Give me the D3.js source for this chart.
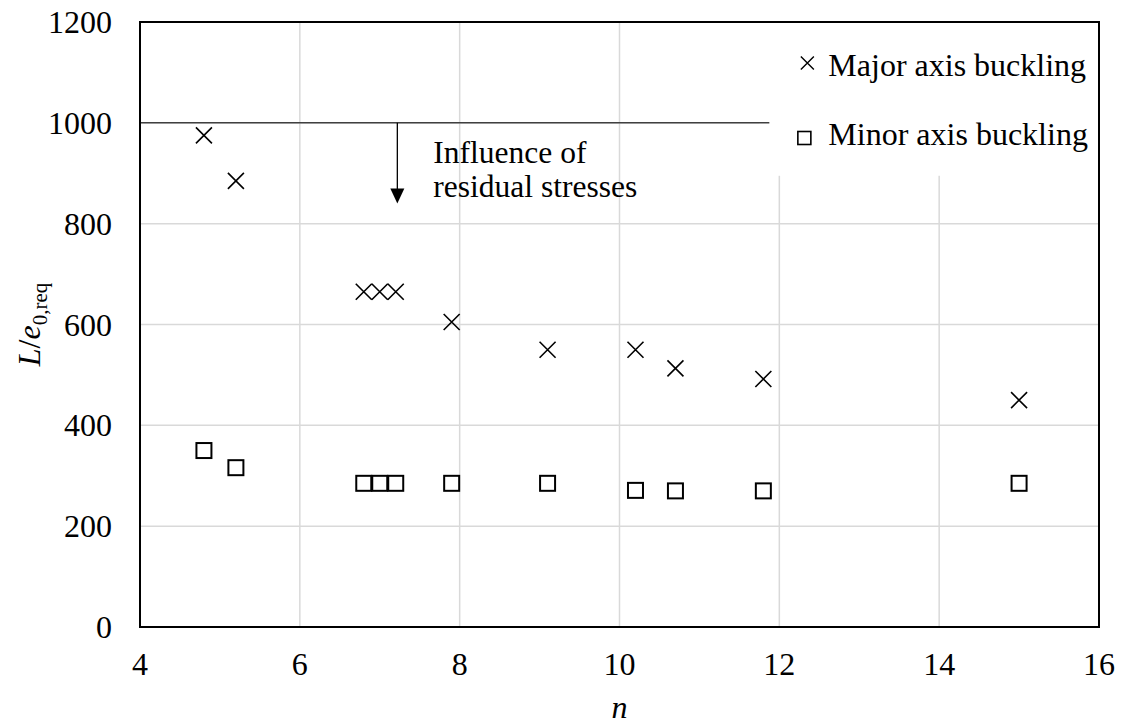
<!DOCTYPE html>
<html>
<head>
<meta charset="utf-8">
<script src="https://cdn.jsdelivr.net/npm/d3@7"></script>
<style>
  html, body { margin: 0; padding: 0; background: #fff; }
  svg { display: block; font-family: "Liberation Serif", "Times New Roman", serif; }
</style>
</head>
<body>
<svg id="chart" width="1125" height="724"></svg>
<script>
  // n values shared by both series
  var nValues = [4.8, 5.2, 6.8, 7.0, 7.2, 7.9, 9.1, 10.2, 10.7, 11.8, 15.0];
  var majorValues = [975, 885, 665, 665, 665, 605, 550, 550, 513, 492, 450];
  var minorValues = [350, 316, 285, 285, 285, 285, 285, 271, 270, 270, 285];
  var xTicks = [4, 6, 8, 10, 12, 14, 16];
  var yTicks = [0, 200, 400, 600, 800, 1000, 1200];
  var refLevel = 1000, refEnd = 11.875, arrowAt = 7.22, arrowTo = 840;
  var noteLines = ['Influence of', 'residual stresses'];
  var legendLabels = ['Major axis buckling', 'Minor axis buckling'];

  var margin = { left: 140, right: 26, top: 22, bottom: 97 },
      width = 1125 - margin.left - margin.right,
      height = 724 - margin.top - margin.bottom;

  var svg = d3.select('#chart'),
      g = svg.append('g').attr('transform', 'translate(' + margin.left + ',' + margin.top + ')');

  var x = d3.scaleLinear().domain([4, 16]).range([0, width]),
      y = d3.scaleLinear().domain([0, 1200]).range([height, 0]);

  // grid
  g.append('g').selectAll('line.vx')
    .data(xTicks.slice(1, -1))
    .enter().append('line')
      .attr('x1', function(d) { return x(d); })
      .attr('x2', function(d) { return x(d); })
      .attr('y1', 0).attr('y2', height)
      .attr('stroke', '#d9d9d9').attr('stroke-width', 1.5);

  g.append('g').selectAll('line.hy')
    .data(yTicks.slice(1, -1))
    .enter().append('line')
      .attr('x1', 0).attr('x2', width)
      .attr('y1', function(d) { return y(d); })
      .attr('y2', function(d) { return y(d); })
      .attr('stroke', '#d9d9d9').attr('stroke-width', 1.5);

  // legend background hides the grid in the top right corner
  var legendX = x(11.75), legendY = y(1200), legendBottom = y(895);
  g.append('rect')
    .attr('x', legendX).attr('y', legendY)
    .attr('width', width - legendX).attr('height', legendBottom - legendY)
    .attr('fill', '#fff');

  // reference line at 1000 and the arrow
  g.append('line')
    .attr('x1', x(4)).attr('x2', x(refEnd))
    .attr('y1', y(refLevel)).attr('y2', y(refLevel))
    .attr('stroke', '#404040').attr('stroke-width', 1.5);

  g.append('line')
    .attr('x1', x(arrowAt)).attr('x2', x(arrowAt))
    .attr('y1', y(refLevel)).attr('y2', y(arrowTo) - 14)
    .attr('stroke', '#000').attr('stroke-width', 1.3);

  g.append('path')
    .attr('d', 'M' + (x(arrowAt) - 7) + ',' + (y(arrowTo) - 15) +
               'L' + (x(arrowAt) + 7) + ',' + (y(arrowTo) - 15) +
               'L' + x(arrowAt) + ',' + y(arrowTo) + 'Z')
    .attr('fill', '#000');

  g.append('text')
    .attr('x', x(arrowAt) + 36)
    .attr('y', y(refLevel) + 40)
    .attr('font-size', 31.5)
    .selectAll('tspan')
    .data(noteLines)
    .enter().append('tspan')
      .attr('x', x(arrowAt) + 36)
      .attr('dy', function(d, i) { return i === 0 ? 0 : 34; })
      .text(function(d) { return d; });

  // frame
  g.append('rect')
    .attr('width', width).attr('height', height)
    .attr('fill', 'none').attr('stroke', '#000').attr('stroke-width', 2);

  // axes labels
  g.append('g').selectAll('text')
    .data(xTicks)
    .enter().append('text')
      .attr('x', function(d) { return x(d); })
      .attr('y', height + 48)
      .attr('text-anchor', 'middle')
      .attr('font-size', 32)
      .text(function(d) { return d; });

  g.append('g').selectAll('text')
    .data(yTicks)
    .enter().append('text')
      .attr('x', -28)
      .attr('y', function(d) { return y(d) + 11; })
      .attr('text-anchor', 'end')
      .attr('font-size', 32)
      .text(function(d) { return d; });

  g.append('text')
    .attr('x', width / 2)
    .attr('y', height + 91)
    .attr('text-anchor', 'middle')
    .attr('font-size', 32)
    .attr('font-style', 'italic')
    .text('n');

  var yLabel = g.append('text')
    .attr('transform', 'translate(' + (-100) + ',' + (height / 2) + ') rotate(-90)')
    .attr('text-anchor', 'middle')
    .attr('font-size', 32);
  yLabel.append('tspan').attr('font-style', 'italic').text('L');
  yLabel.append('tspan').text('/');
  yLabel.append('tspan').attr('font-style', 'italic').text('e');
  yLabel.append('tspan').attr('font-size', 21).attr('dy', 7).text('0,req');

  // markers
  var crossPath = function(cx, cy, r) {
    return 'M' + (cx - r) + ',' + (cy - r) + 'L' + (cx + r) + ',' + (cy + r) +
            'M' + (cx - r) + ',' + (cy + r) + 'L' + (cx + r) + ',' + (cy - r);
  };

  g.append('g').selectAll('path')
    .data(nValues)
    .enter().append('path')
      .attr('d', function(d, i) { return crossPath(x(d), y(majorValues[i]), 8); })
      .attr('stroke', '#000').attr('stroke-width', 1.6).attr('fill', 'none');

  g.append('g').selectAll('rect')
    .data(nValues)
    .enter().append('rect')
      .attr('x', function(d) { return x(d) - 7.5; })
      .attr('y', function(d, i) { return y(minorValues[i]) - 7.5; })
      .attr('width', 15).attr('height', 15)
      .attr('fill', 'none').attr('stroke', '#000').attr('stroke-width', 2);

  // legend
  var legend = g.append('g').attr('transform', 'translate(' + (legendX + 48) + ',0)');
  legend.append('path')
    .attr('d', crossPath(0, 41, 6.5))
    .attr('stroke', '#000').attr('stroke-width', 1.4).attr('fill', 'none');
  legend.append('rect')
    .attr('x', -9.5).attr('y', 109.5).attr('width', 13).attr('height', 13)
    .attr('fill', 'none').attr('stroke', '#000').attr('stroke-width', 1.6);
  legend.selectAll('text')
    .data(legendLabels)
    .enter().append('text')
      .attr('x', 21)
      .attr('y', function(d, i) { return 54 + i * 69; })
      .attr('font-size', 32)
      .text(function(d) { return d; });
</script>
</body>
</html>
